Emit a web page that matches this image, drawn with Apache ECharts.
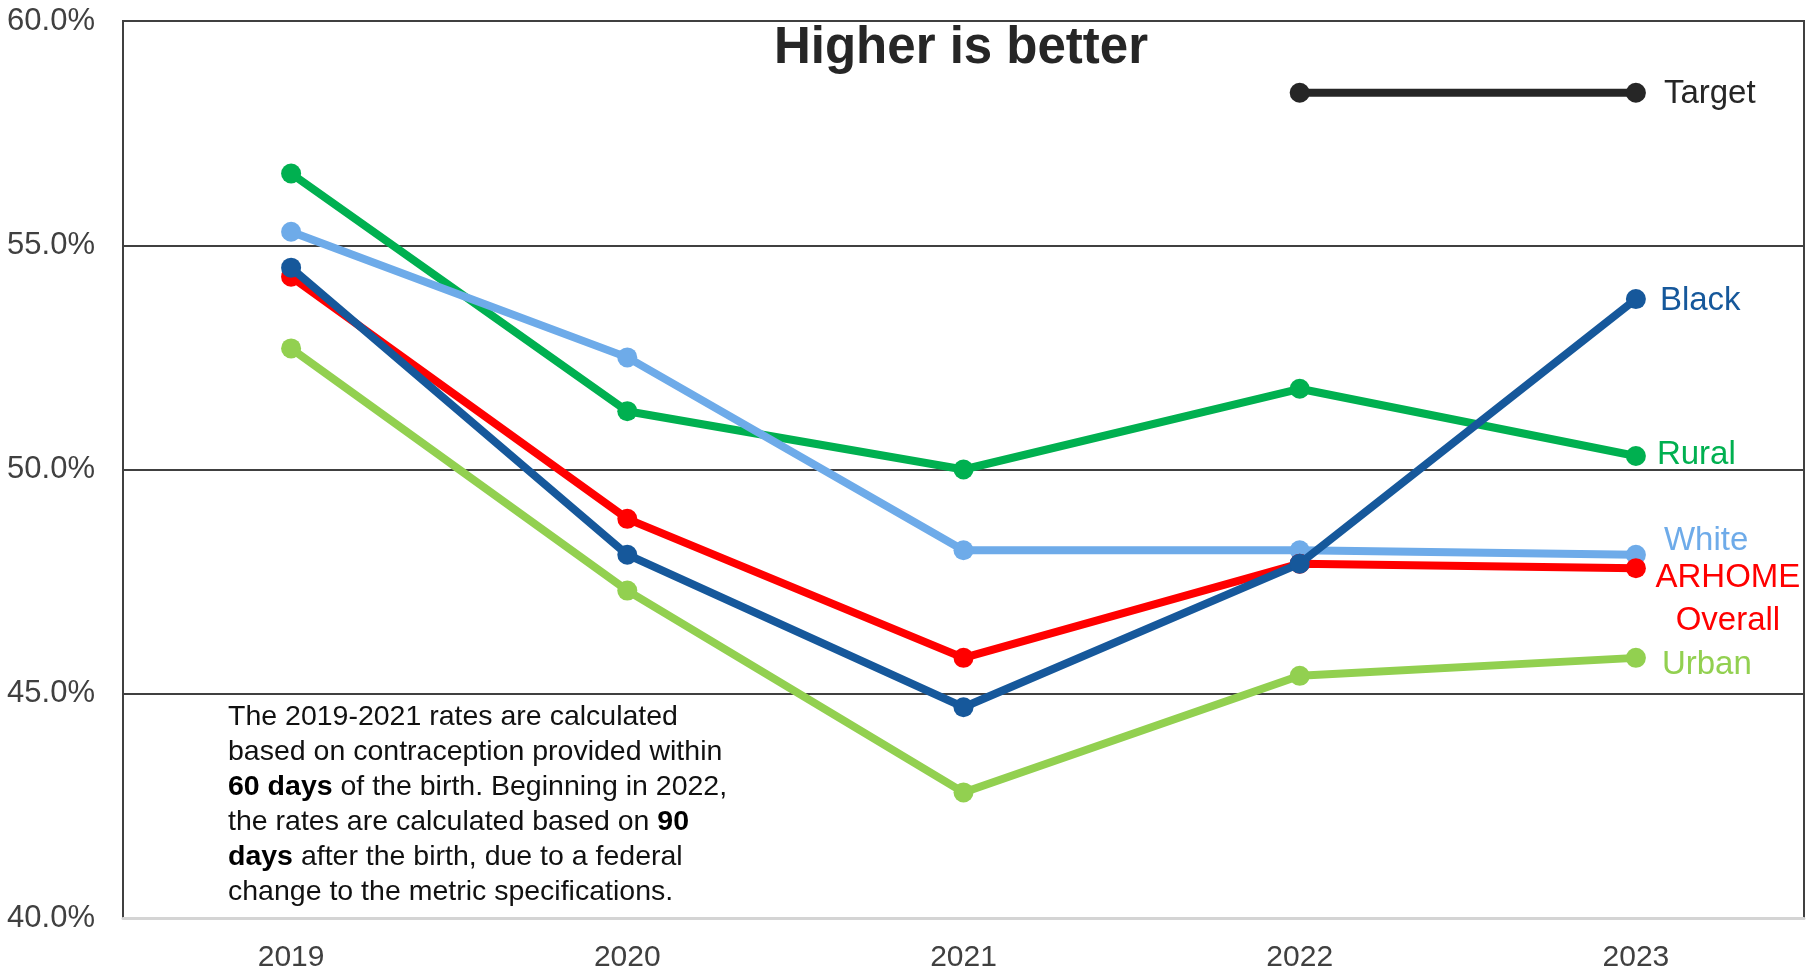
<!DOCTYPE html>
<html>
<head>
<meta charset="utf-8">
<title>Higher is better</title>
<script src="https://cdn.jsdelivr.net/npm/echarts@6/dist/echarts.min.js"></script>
<style>
html, body { margin: 0; padding: 0; background: #fff; }
#chart { width: 1816px; height: 973px; }
</style>
</head>
<body>
<div id="chart"></div>
<script>
// data (percent)
var years = ['2019', '2020', '2021', '2022', '2023'];
var yTicks = [40, 45, 50, 55, 60];
var target = [null, null, null, 58.4, 58.4];
var rural = [56.6, 51.3, 50.0, 51.8, 50.3];
var urban = [52.7, 47.3, 42.8, 45.4, 45.8];
var white = [55.3, 52.5, 48.2, 48.2, 48.1];
var overall = [54.3, 48.9, 45.8, 47.9, 47.8];
var black = [54.5, 48.1, 44.7, 47.9, 53.8];

var FONT = '"Liberation Sans", Arial, sans-serif';

// put a text label on the last point of a series
function withEndLabel(values, text, color, offset, align) {
  return values.map(function (v, i) {
    if (i !== values.length - 1) return v;
    return {
      value: v,
      label: {
        show: true,
        formatter: text,
        position: 'inside',
        offset: offset,
        align: align || 'left',
        verticalAlign: 'middle',
        color: color,
        fontSize: 33,
        lineHeight: 43,
        fontFamily: FONT
      }
    };
  });
}

function lineSeries(name, color, data, z) {
  return {
    name: name,
    type: 'line',
    data: data,
    z: z,
    symbol: 'circle',
    symbolSize: 20,
    showAllSymbol: true,
    connectNulls: false,
    lineStyle: { color: color, width: 8 },
    itemStyle: { color: color },
    emphasis: { disabled: true },
    animation: false
  };
}

var chart = echarts.init(document.getElementById('chart'));

var option = {
  backgroundColor: '#ffffff',
  grid: {
    left: 123,
    right: 12,
    top: 21,
    bottom: 54,
    show: true,
    borderColor: '#404040',
    borderWidth: 2,
    backgroundColor: 'transparent'
  },
  xAxis: {
    type: 'category',
    data: years,
    boundaryGap: true,
    z: 5,
    axisTick: { show: false },
    axisLine: { show: true, lineStyle: { color: '#d4d4d4', width: 3 } },
    axisLabel: { color: '#404040', fontSize: 30, fontFamily: FONT, margin: 25 }
  },
  yAxis: {
    type: 'value',
    min: yTicks[0],
    max: yTicks[yTicks.length - 1],
    interval: 5,
    axisLine: { show: false },
    axisTick: { show: false },
    splitLine: { show: true, lineStyle: { color: '#404040', width: 2 } },
    axisLabel: {
      color: '#404040',
      fontSize: 31,
      fontFamily: FONT,
      margin: 28,
      formatter: function (v) { return v.toFixed(1) + '%'; }
    }
  },
  graphic: [
    {
      type: 'text',
      x: 961,
      y: 49,
      z: 10,
      style: {
        text: 'Higher is better',
        align: 'center',
        verticalAlign: 'middle',
        fill: '#262626',
        fontSize: 51,
        fontWeight: 'bold',
        fontFamily: FONT
      }
    },
    {
      type: 'text',
      x: 228,
      y: 700,
      z: 10,
      style: {
        text: 'The 2019-2021 rates are calculated\n' +
              'based on contraception provided within\n' +
              '{b|60 days} of the birth. Beginning in 2022,\n' +
              'the rates are calculated based on {b|90}\n' +
              '{b|days} after the birth, due to a federal\n' +
              'change to the metric specifications.',
        fill: '#111',
        fontSize: 28.5,
        fontFamily: FONT,
        lineHeight: 35,
        rich: {
          b: { fontWeight: 'bold', fontSize: 28.5, fontFamily: FONT, lineHeight: 35, fill: '#000' }
        }
      }
    }
  ],
  series: [
    lineSeries('Target', '#262626', withEndLabel(target, 'Target', '#262626', [28, 1]), 2),
    lineSeries('Rural', '#00b050', withEndLabel(rural, 'Rural', '#00b050', [21, -1]), 3),
    lineSeries('Urban', '#92d050', withEndLabel(urban, 'Urban', '#92d050', [26, 7]), 4),
    lineSeries('White', '#6eabe9', withEndLabel(white, 'White', '#6eabe9', [28, -14]), 5),
    lineSeries('ARHOME Overall', '#ff0000', withEndLabel(overall, 'ARHOME\nOverall', '#ff0000', [92, 31], 'center'), 6),
    lineSeries('Black', '#16589b', withEndLabel(black, 'Black', '#16589b', [24, 2]), 7)
  ]
};

chart.setOption(option);
</script>
</body>
</html>
